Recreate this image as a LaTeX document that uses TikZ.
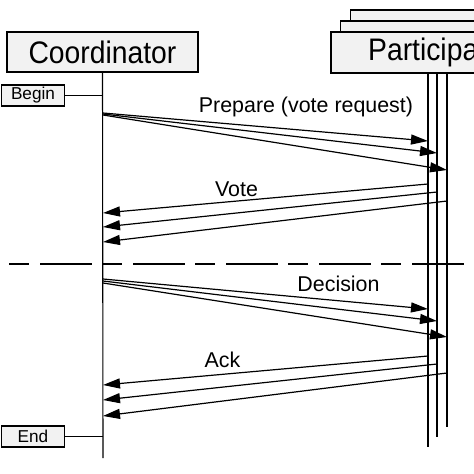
\documentclass[tikz,border=0pt]{standalone}
\usepackage{fontspec}
\setmainfont{Liberation Sans}
\usetikzlibrary{arrows.meta}
\definecolor{boxfill}{RGB}{242,242,242}
\tikzset{
  role/.style={draw, fill=boxfill, line width=1.3pt, minimum width=194pt, minimum height=41pt, inner sep=0pt, font=\fontsize{28.3}{30}\selectfont},
  tag/.style={draw, fill=boxfill, line width=1.2pt, minimum width=63pt, minimum height=21pt, inner sep=0pt, font=\fontsize{17.2}{18}\selectfont},
  life/.style={line width=1.1pt},
  msg/.style={line width=1.2pt, -{Triangle[length=17pt,width=10pt]}},
  lbl/.style={inner sep=0pt, font=\fontsize{21.4}{23}\selectfont},
  sep/.style={line width=1.2pt, dash pattern=on 20pt off 11pt on 52pt off 10pt}
}
\begin{document}
\begin{tikzpicture}[x=1pt,y=-1pt]
\useasboundingbox (0,0) rectangle (474,474);
\clip (0,0) rectangle (474,474);
% coordinator
\node[role, minimum width=191pt, minimum height=40pt] (coord) at (102.5,52) {\scalebox{1}[1.1]{Coordinator}};
% participants (stacked)
\node[role] (p3) at (447.5,30.5) {};
\node[role] (p2) at (437.5,41.5) {};
\node[role] (p1) at (428,52.5) {\hspace*{14pt}\scalebox{1}[1.1]{Participant}};
% lifelines
\coordinate (cend) at (103,458);
\draw[life] (coord.south) -- (cend);
\coordinate (l1end) at (428,447);
\coordinate (l2end) at (437,437);
\coordinate (l3end) at (447,427);
\coordinate (l1top) at (428,73);
\coordinate (l2top) at (437,73);
\coordinate (l3top) at (447,73);
\draw[life] (l1top) -- (l1end);
\draw[life] (l2top) -- (l2end);
\draw[life] (l3top) -- (l3end);
% begin / end
\node[tag] (begin) at (33,95.5) {Begin};
\node[tag] (end) at (33,436.5) {End};
\coordinate (cb) at (103,95.5);
\coordinate (ce) at (103,436.5);
\draw[life] (begin.east) -- (cb);
\draw[life] (end.east) -- (ce);
% separator
\coordinate (s1) at (9,264);
\coordinate (s2) at (464,264);
\draw[sep] (s1) -- (s2);
% prepare
\coordinate (pa0) at (103,113); \coordinate (pa1) at (428,141);
\coordinate (pb0) at (103,114); \coordinate (pb1) at (437,153);
\coordinate (pc0) at (103,115); \coordinate (pc1) at (447,170);
\draw[msg] (pa0) -- (pa1);
\draw[msg] (pb0) -- (pb1);
\draw[msg] (pc0) -- (pc1);
\node[lbl] (lprep) at (306,107) {Prepare (vote request)};
% vote
\coordinate (va0) at (428,184); \coordinate (va1) at (103,213);
\coordinate (vb0) at (437,192); \coordinate (vb1) at (103,227);
\coordinate (vc0) at (447,201); \coordinate (vc1) at (103,242);
\draw[msg] (va0) -- (va1);
\draw[msg] (vb0) -- (vb1);
\draw[msg] (vc0) -- (vc1);
\node[lbl] (lvote) at (236.5,189) {Vote};
% decision
\coordinate (da0) at (103,279); \coordinate (da1) at (428,309);
\coordinate (db0) at (103,281); \coordinate (db1) at (437,321);
\coordinate (dc0) at (103,283); \coordinate (dc1) at (447,337);
\draw[msg] (da0) -- (da1);
\draw[msg] (db0) -- (db1);
\draw[msg] (dc0) -- (dc1);
\node[lbl] (ldec) at (338.5,284) {Decision};
% ack
\coordinate (aa0) at (428,356); \coordinate (aa1) at (103,385);
\coordinate (ab0) at (437,364); \coordinate (ab1) at (103,400);
\coordinate (ac0) at (447,373); \coordinate (ac1) at (103,416);
\draw[msg] (aa0) -- (aa1);
\draw[msg] (ab0) -- (ab1);
\draw[msg] (ac0) -- (ac1);
\node[lbl] (lack) at (222.5,360) {Ack};
\end{tikzpicture}
\end{document}
